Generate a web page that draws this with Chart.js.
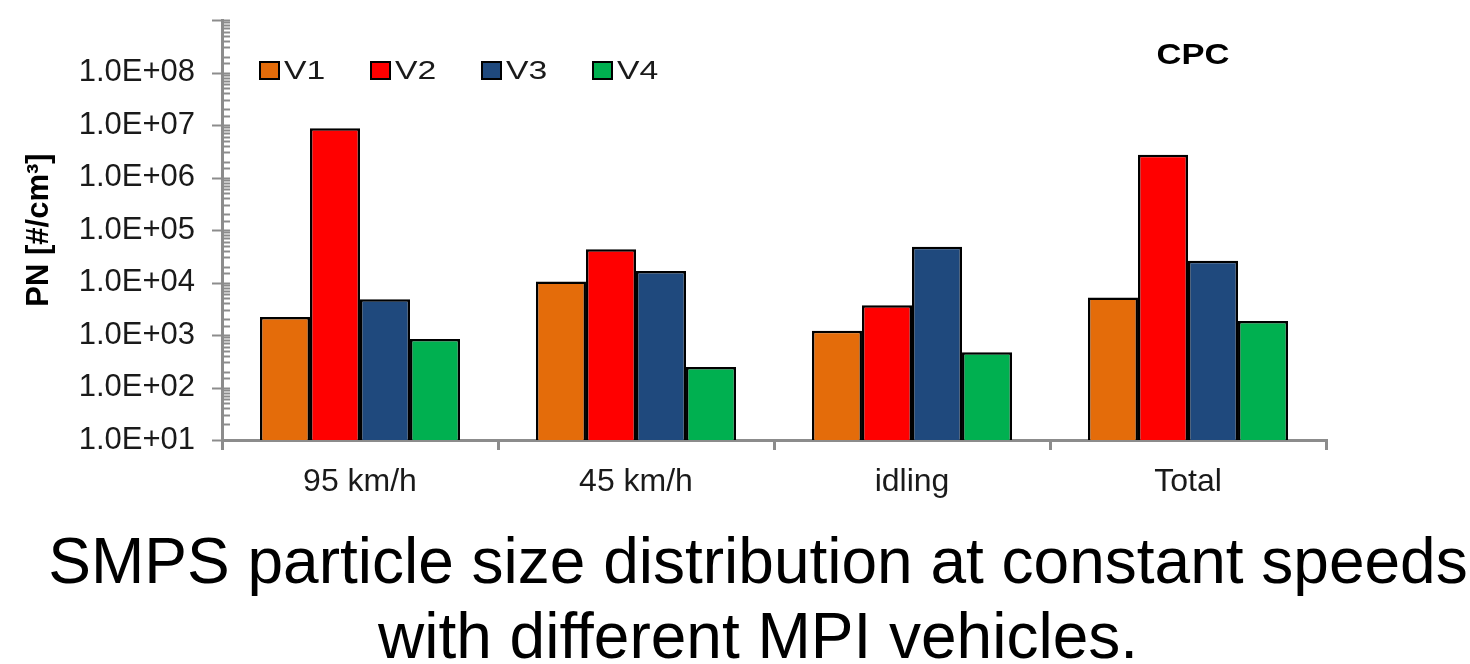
<!DOCTYPE html>
<html>
<head>
<meta charset="utf-8">
<script src="https://cdn.jsdelivr.net/npm/chart.js@4.4.0/dist/chart.umd.min.js"></script>
<style>
html,body{margin:0;padding:0;background:#fff;}
#wrap{position:relative;width:1470px;height:664px;overflow:hidden;}
#c{position:absolute;left:0;top:0;}
#caption{position:absolute;left:0;top:524px;width:1516px;text-align:center;
  font-family:"Liberation Sans",Arial,sans-serif;font-size:64px;line-height:75px;color:#000;}
</style>
</head>
<body>
<div id="wrap">
<canvas id="c" width="1470" height="664"></canvas>
<div id="caption">SMPS particle size distribution at constant speeds<br>with different MPI vehicles.</div>
</div>
<script>
// ---- data ----
const categories = ["95 km/h", "45 km/h", "idling", "Total"];
const seriesNames = ["V1", "V2", "V3", "V4"];
const v1 = [2200, 10500, 1200, 5200];
const v2 = [8.7e6, 4.3e4, 3.7e3, 2.7e6];
const v3 = [4.8e3, 1.65e4, 4.8e4, 2.6e4];
const v4 = [840, 245, 470, 1850];
const yMin = 1e1, yMax = 1e9;
const chartLabel = "CPC";
const yTitle = "PN [#/cm\u00B3]";

const colors = ["#E46C0A", "#FF0000", "#1F497D", "#00B050"];
const FONT = '"Liberation Sans", Arial, sans-serif';

function isPow10(v){ const l = Math.log10(v); return Math.abs(l - Math.round(l)) < 1e-6; }
function fmtE(v){
  const e = Math.round(Math.log10(v));
  return "1.0E+" + (e < 10 ? "0" + e : "" + e);
}

const decor = {
  id: 'decor',
  afterDraw(chart){
    const {ctx, chartArea} = chart;
    const y = chart.scales.y;
    ctx.save();
    // y-axis major/minor tick marks
    ctx.strokeStyle = '#8c8c8c';
    ctx.lineWidth = 2;
    const x0 = chartArea.left;
    y.ticks.forEach(t => {
      const py = Math.round(y.getPixelForValue(t.value)) + 0.5;
      const major = isPow10(t.value);
      ctx.beginPath();
      ctx.moveTo(major ? x0 - 10 : x0, py);
      ctx.lineTo(x0 + 8, py);
      ctx.stroke();
    });
    // legend
    chart.data.datasets.forEach((ds, i) => {
      const bx = 260 + i * 111, by = 62;
      ctx.fillStyle = ds.backgroundColor;
      ctx.fillRect(bx, by, 19, 17);
      ctx.strokeStyle = '#000';
      ctx.lineWidth = 2;
      ctx.strokeRect(bx, by, 19, 17);
      ctx.save();
      ctx.translate(bx + 24, 79);
      ctx.scale(1.35, 1);
      ctx.font = '25px ' + FONT;
      ctx.fillStyle = '#1a1a1a';
      ctx.textBaseline = 'alphabetic';
      ctx.fillText(ds.label, 0, 0);
      ctx.restore();
    });
    // CPC label
    ctx.save();
    ctx.translate(1193, 64);
    ctx.scale(1.15, 1);
    ctx.font = 'bold 30px ' + FONT;
    ctx.fillStyle = '#000';
    ctx.textAlign = 'center';
    ctx.textBaseline = 'alphabetic';
    ctx.fillText(chartLabel, 0, 0);
    ctx.restore();
    ctx.restore();
  }
};

const seriesData = [v1, v2, v3, v4];
new Chart(document.getElementById('c'), {
  type: 'bar',
  data: {
    labels: categories,
    datasets: seriesNames.map((n, i) => ({
      label: n,
      data: seriesData[i],
      backgroundColor: colors[i],
      borderColor: '#000',
      borderWidth: 2.5,
      categoryPercentage: 0.725,
      barPercentage: 1.0
    }))
  },
  options: {
    responsive: false,
    animation: false,
    layout: { padding: { top: 20, right: 144, left: 0, bottom: 164 } },
    plugins: { legend: { display: false }, tooltip: { enabled: false } },
    scales: {
      x: {
        grid: { display: true, drawOnChartArea: false, drawTicks: true, tickLength: 10,
                color: '#8c8c8c', lineWidth: 3, offset: true },
        border: { display: true, color: '#8c8c8c', width: 3 },
        ticks: { font: { family: FONT, size: 32 }, color: '#1a1a1a', padding: 13, maxRotation: 0 },
        afterFit(s){ s.height = 60; s.paddingLeft = 0; s.paddingRight = 0; }
      },
      y: {
        type: 'logarithmic',
        min: yMin, max: yMax,
        grid: { display: false, drawTicks: false },
        border: { display: true, color: '#8c8c8c', width: 3 },
        ticks: {
          autoSkip: false,
          font: { family: FONT, size: 31 }, color: '#1a1a1a', padding: 27,
          callback: (v) => (isPow10(v) && v < yMax) ? fmtE(v) : ''
        },
        title: { display: true, text: yTitle, font: { family: FONT, size: 31, weight: 'bold' },
                 color: '#000', padding: { top: 21, bottom: 0 } },
        afterFit(s){ s.width = 222; s.paddingTop = 0; s.paddingBottom = 0; }
      }
    }
  },
  plugins: [decor]
});
</script>
</body>
</html>
